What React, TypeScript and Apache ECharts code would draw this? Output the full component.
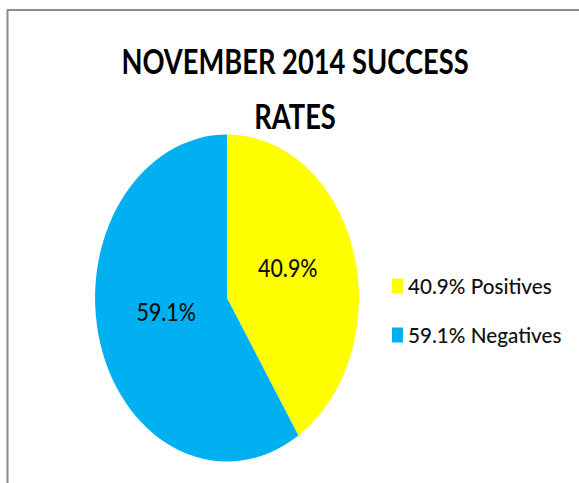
import React, { useEffect, useRef } from "react";
import * as echarts from "echarts";

const TITLE_LINES = ["NOVEMBER 2014 SUCCESS", "RATES"];
const CATEGORIES = ["Positives", "Negatives"];
const VALUES = [40.9, 59.1];
const COLORS = ["#FFFF00", "#00B0F0"];

export default function App() {
  const ref = useRef<HTMLDivElement>(null);
  useEffect(() => {
    const chart = echarts.init(ref.current!, null, { renderer: "svg" });
    const total = VALUES.reduce((a, b) => a + b, 0);
    const CX = 227;
    const CY = 298;
    const RY = 163.5;
    const SX = 132 / 163.5;
    const starts: number[] = [];
    let acc = 0;
    VALUES.forEach((v) => {
      starts.push(acc);
      acc += v;
    });
    const angle = (v: number) => -Math.PI / 2 + (v / total) * Math.PI * 2;
    const pct = (v: number) => ((v / total) * 100).toFixed(1) + "%";
    const FONT = "Lato, 'Open Sans', sans-serif";

    const renderItem = (params: any) => {
      const i = params.dataIndex;
      const a0 = angle(starts[i]);
      const a1 = angle(starts[i] + VALUES[i]);
      const mid = (a0 + a1) / 2;
      const lr = RY * 0.48;
      return {
        type: "group",
        children: [
          {
            type: "sector",
            x: CX,
            y: CY,
            scaleX: SX,
            shape: { cx: 0, cy: 0, r: RY, r0: 0, startAngle: a0, endAngle: a1, clockwise: true },
            style: { fill: COLORS[i] },
          },
          {
            type: "text",
            x: CX + Math.cos(mid) * lr * SX,
            y: CY + Math.sin(mid) * lr - 8,
            scaleX: 0.89,
            style: {
              text: pct(VALUES[i]),
              fill: "#111",
              font: `500 24px ${FONT}`,
              textAlign: "center",
              textVerticalAlign: "middle",
            },
          },
        ],
      };
    };

    const graphics: any[] = [
      { type: "line", shape: { x1: 7, y1: 10, x2: 579, y2: 10 }, style: { stroke: "#8c8c8c", lineWidth: 2 } },
      { type: "line", shape: { x1: 7.5, y1: 10, x2: 7.5, y2: 483 }, style: { stroke: "#8c8c8c", lineWidth: 2 } },
    ];
    TITLE_LINES.forEach((t, k) => {
      graphics.push({
        type: "text",
        x: 295,
        y: 61 + k * 54.5,
        scaleX: 0.78,
        style: {
          text: t,
          fill: "#000",
          font: `700 35px ${FONT}`,
          textAlign: "center",
          textVerticalAlign: "middle",
        },
      });
    });
    CATEGORIES.forEach((c, i) => {
      const y = 286 + i * 49;
      graphics.push({
        type: "rect",
        shape: { x: 392, y: y - 7.5, width: 11, height: 15 },
        style: { fill: COLORS[i] },
      });
      graphics.push({
        type: "text",
        x: 408,
        y,
        scaleX: 0.94,
        style: {
          text: `${pct(VALUES[i])} ${c}`,
          fill: "#111",
          font: `500 22px ${FONT}`,
          textAlign: "left",
          textVerticalAlign: "middle",
        },
      });
    });

    chart.setOption({
      animation: false,
      backgroundColor: "#fff",
      graphic: graphics,
      series: [
        {
          type: "custom",
          coordinateSystem: "none",
          renderItem,
          data: VALUES.map((v, i) => ({ name: CATEGORIES[i], value: v })),
        },
      ],
    });
    return () => chart.dispose();
  }, []);
  return (
    <div
      ref={ref}
      style={{ position: "fixed", left: 0, top: 0, width: 579, height: 483 }}
    />
  );
}
